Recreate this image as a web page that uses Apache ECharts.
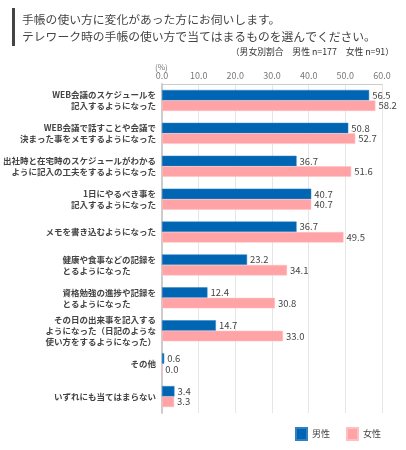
<!DOCTYPE html>
<html><head><meta charset="utf-8">
<script src="https://cdn.jsdelivr.net/npm/echarts@6/dist/echarts.min.js"></script>
<style>html,body{margin:0;padding:0;background:#fff}#c{width:406px;height:450px}</style>
</head><body><div id="c"></div>
<script>
const categories = [
  'WEB会議のスケジュールを\n記入するようになった',
  'WEB会議で話すことや会議で\n決まった事をメモするようになった',
  '出社時と在宅時のスケジュールがわかる\nように記入の工夫をするようになった',
  '1日にやるべき事を\n記入するようになった',
  'メモを書き込むようになった',
  '健康や食事などの記録を\nとるようになった　　　',
  '資格勉強の進捗や記録を\nとるようになった　　　',
  'その日の出来事を記入する\nようになった（日記のような\n使い方をするようになった）',
  'その他',
  'いずれにも当てはまらない'
];
const male = [56.5, 50.8, 36.7, 40.7, 36.7, 23.2, 12.4, 14.7, 0.6, 3.4];
const female = [58.2, 52.7, 51.6, 40.7, 49.5, 34.1, 30.8, 33.0, 0.0, 3.3];
const seriesNames = ['男性', '女性'];
const xTicks = [0, 10, 20, 30, 40, 50, 60];

const FONT = '"Noto Sans CJK JP", "Noto Sans", sans-serif';
const chart = echarts.init(document.getElementById('c'), null, {renderer: 'canvas'});
chart.setOption({
  animation: false,
  textStyle: {fontFamily: FONT},
  graphic: [
    {type: 'rect', shape: {x: 12, y: 8, width: 3, height: 38}, style: {fill: '#444'}},
    {type: 'text', left: 22, top: 11, style: {text: '手帳の使い方に変化があった方にお伺いします。\nテレワーク時の手帳の使い方で当てはまるものを選んでください。', font: '11.8px ' + FONT, fill: '#444', lineHeight: 17}},
    {type: 'text', right: 12, top: 47, style: {text: '（男女別割合　男性 n=177　女性 n=91）', font: '8.8px ' + FONT, fill: '#333'}},
    {type: 'text', left: 155, top: 63, style: {text: '(%)', font: '8px ' + FONT, fill: '#777'}}
  ],
  grid: {left: 162, right: 24, top: 84, bottom: 37, containLabel: false},
  legend: {
    data: seriesNames, left: 290, top: 422, itemWidth: 11, itemHeight: 12, itemGap: 16,
    icon: 'rect', textStyle: {fontSize: 9, color: '#444', fontFamily: FONT}
  },
  xAxis: {
    type: 'value', position: 'top', min: 0, max: 60, interval: 10,
    axisLine: {show: true, lineStyle: {color: '#ccc', width: 1}},
    axisTick: {show: false},
    axisLabel: {color: '#777', fontSize: 9, margin: 4, formatter: v => xTicks.includes(v) ? v.toFixed(1) : ''},
    splitLine: {show: true, lineStyle: {color: '#e6e6e6', width: 1}}
  },
  yAxis: {
    type: 'category', data: categories, inverse: true,
    axisLine: {show: true, lineStyle: {color: '#ccc', width: 2}},
    axisTick: {show: false},
    axisLabel: {color: '#444', fontSize: 8.5, lineHeight: 11, margin: 6, fontWeight: 'bold', align: 'right'}
  },
  series: [
    {name: seriesNames[0], type: 'bar', data: male, barWidth: 10.5, barGap: '0%', barCategoryGap: '35%',
     itemStyle: {color: '#0065b3', borderColor: '#2f80c4', borderWidth: 0.5},
     label: {show: true, position: 'right', distance: 3, color: '#444', fontSize: 9.5, formatter: p => p.value.toFixed(1)}},
    {name: seriesNames[1], type: 'bar', data: female, barWidth: 10.5, barGap: '0%',
     itemStyle: {color: '#ffa3a6', borderColor: '#ffc0c2', borderWidth: 0.5},
     label: {show: true, position: 'right', distance: 3, color: '#444', fontSize: 9.5, formatter: p => p.value.toFixed(1)}}
  ]
});
</script></body></html>
